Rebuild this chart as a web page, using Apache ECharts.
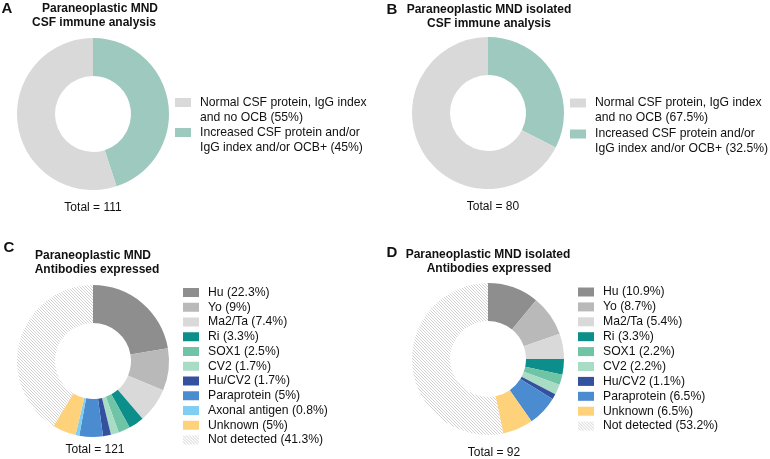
<!DOCTYPE html>
<html lang="en">
<head>
  <meta charset="UTF-8">
  <title>Paraneoplastic MND donuts</title>
  <script src="https://cdn.jsdelivr.net/npm/echarts@6/dist/echarts.min.js"></script>
  <style>
    body { margin: 0; background: #ffffff; }
    #chart { width: 770px; height: 459px; }
  </style>
</head>
<body>
<div id="chart"></div>
<script>
  // CSF immune analysis (A, B)
  const csfLabels = ['Normal CSF protein, IgG index\nand no OCB', 'Increased CSF protein and/or\nIgG index and/or OCB+'];
  const csfColors = ['#d9d9d9', '#9dc9bf'];
  const csfAll = [55, 45];
  const csfIsolated = [67.5, 32.5];

  // Antibodies expressed (C, D)
  const abLabelsAll = ['Hu', 'Yo', 'Ma2/Ta', 'Ri', 'SOX1', 'CV2', 'Hu/CV2', 'Paraprotein', 'Axonal antigen', 'Unknown', 'Not detected'];
  const abAll = [22.3, 9, 7.4, 3.3, 2.5, 1.7, 1.7, 5, 0.8, 5, 41.3];
  const abLabelsIsolated = ['Hu', 'Yo', 'Ma2/Ta', 'Ri', 'SOX1', 'CV2', 'Hu/CV2', 'Paraprotein', 'Unknown', 'Not detected'];
  const abIsolated = [10.9, 8.7, 5.4, 3.3, 2.2, 2.2, 1.1, 6.5, 6.5, 53.2];

  const totals = [111, 80, 121, 92];

  // diagonal hatch for "Not detected"
  function hatch() {
    const c = document.createElement('canvas');
    c.width = 3;
    c.height = 3;
    const g = c.getContext('2d');
    g.fillStyle = '#ffffff';
    g.fillRect(0, 0, 3, 3);
    g.fillStyle = '#d2d2d2';
    for (let i = 0; i < 3; i++) g.fillRect(i, i, 1, 1);
    return c;
  }
  const hatchFill = { image: hatch(), repeat: 'repeat' };

  const abColors = {
    'Hu': '#8e8e8e',
    'Yo': '#b9b9b9',
    'Ma2/Ta': '#d9d9d9',
    'Ri': '#0c8f8b',
    'SOX1': '#6fc4a6',
    'CV2': '#a9dcc4',
    'Hu/CV2': '#3451a0',
    'Paraprotein': '#4b8bd0',
    'Axonal antigen': '#80cef2',
    'Unknown': '#fdd27b',
    'Not detected': hatchFill
  };

  const label = (name, v) => `${name} (${v}%)`;

  function csfData(values) {
    // teal slice first so it starts at 12 o'clock
    return [1, 0].map(i => ({
      name: label(csfLabels[i], values[i]),
      value: values[i],
      itemStyle: { color: csfColors[i] }
    }));
  }

  function abData(names, values) {
    return names.map((n, i) => ({
      name: label(n, values[i]),
      value: values[i],
      itemStyle: { color: abColors[n] }
    }));
  }

  function donut(center, data) {
    return {
      type: 'pie',
      center: center,
      radius: [38, 76],
      startAngle: 90,
      clockwise: true,
      silent: true,
      label: { show: false },
      labelLine: { show: false },
      emphasis: { disabled: true },
      data: data
    };
  }

  const font = 'Liberation Sans, Arial, Helvetica, sans-serif';

  function text(str, x, y, size, weight) {
    return {
      text: str,
      left: x,
      top: y,
      padding: 0,
      textAlign: 'center',
      textVerticalAlign: 'middle',
      textStyle: { fontFamily: font, fontSize: size, fontWeight: weight, color: '#111111' }
    };
  }

  // one legend per two-line item; a leading blank line keeps the
  // first text line level with the swatch
  const csfLegend = (left, top, name) => ({
    orient: 'vertical',
    left: left,
    top: top,
    padding: 0,
    itemWidth: 16,
    itemHeight: 9,
    selectedMode: false,
    icon: 'rect',
    formatter: n => '\n' + n,
    textStyle: { fontFamily: font, fontSize: 12.2, lineHeight: 15, color: '#111111', padding: [0, 0, 0, 4] },
    data: [name]
  });

  const abLegend = (left, top, gap, names, values) => ({
    orient: 'vertical',
    left: left,
    top: top,
    padding: 0,
    itemWidth: 16,
    itemHeight: 9,
    itemGap: gap,
    selectedMode: false,
    icon: 'rect',
    textStyle: { fontFamily: font, fontSize: 12.2, color: '#111111', padding: [0, 0, 0, 4] },
    data: names.map((n, i) => label(n, values[i]))
  });

  const chart = echarts.init(document.getElementById('chart'));
  chart.setOption({
    animation: false,
    title: [
      text('A', 7, 9, 15, 'bold'),
      text('Paraneoplastic MND', 100, 9, 12, 'bold'),
      text('CSF immune analysis', 94, 23, 12, 'bold'),
      text('B', 392, 10, 15, 'bold'),
      text('Paraneoplastic MND isolated', 489, 10, 12, 'bold'),
      text('CSF immune analysis', 489, 24, 12, 'bold'),
      text('C', 9, 248, 15, 'bold'),
      text('Paraneoplastic MND', 93, 256, 12, 'bold'),
      text('Antibodies expressed', 97, 270, 12, 'bold'),
      text('D', 392, 253, 15, 'bold'),
      text('Paraneoplastic MND isolated', 488, 255, 12, 'bold'),
      text('Antibodies expressed', 489, 269, 12, 'bold'),
      text('Total = ' + totals[0], 93, 208, 12, 'normal'),
      text('Total = ' + totals[1], 493, 207, 12, 'normal'),
      text('Total = ' + totals[2], 95, 450, 12, 'normal'),
      text('Total = ' + totals[3], 494, 453, 12, 'normal')
    ],
    legend: [
      csfLegend(175, 80, label(csfLabels[0], csfAll[0])),
      csfLegend(175, 110, label(csfLabels[1], csfAll[1])),
      csfLegend(570, 80.5, label(csfLabels[0], csfIsolated[0])),
      csfLegend(570, 111.5, label(csfLabels[1], csfIsolated[1])),
      abLegend(183, 286.5, 2.75, abLabelsAll, abAll),
      abLegend(578, 286, 2.9, abLabelsIsolated, abIsolated)
    ],
    series: [
      donut([93, 114], csfData(csfAll)),
      donut([488, 113], csfData(csfIsolated)),
      donut([93, 361], abData(abLabelsAll, abAll)),
      donut([488, 359], abData(abLabelsIsolated, abIsolated))
    ]
  });
</script>
</body>
</html>
